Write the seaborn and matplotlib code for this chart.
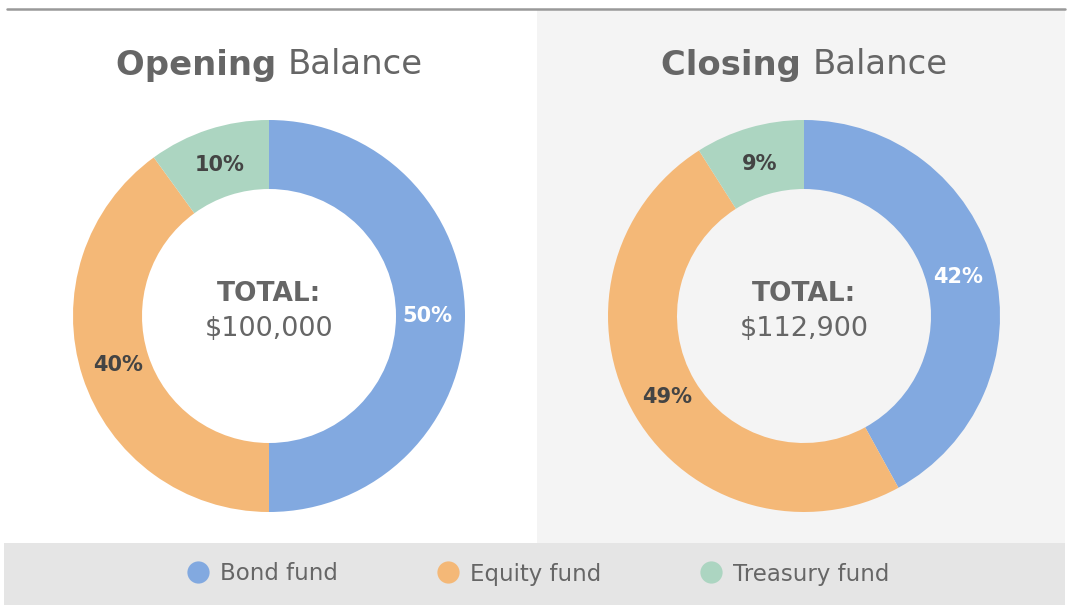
import matplotlib
matplotlib.use("Agg")
import numpy as np
import matplotlib.pyplot as plt
import seaborn as sns
from matplotlib.patches import Rectangle
from matplotlib.lines import Line2D

# ---- data ----
categories = ["Bond fund", "Equity fund", "Treasury fund"]
opening_pct = [50, 40, 10]
closing_pct = [42, 49, 9]
opening_total = "$100,000"
closing_total = "$112,900"
titles = [("Opening", "Balance"), ("Closing", "Balance")]

sns.set_theme(style="white")
plt.rcParams["font.family"] = ["DejaVu Sans"]
palette = sns.color_palette(["#82a9e0", "#f4b877", "#acd5c1"])
label_colors = ["white", "#444444", "#444444"]

W, H = 1068, 614
fig = plt.figure(figsize=(W / 100, H / 100), dpi=100)
fig.patch.set_facecolor("white")

# background panels
fig.patches.append(Rectangle((537 / W, (H - 543) / H), (1065 - 537) / W, (543 - 9) / H,
                             transform=fig.transFigure, facecolor="#f4f4f4", edgecolor="none", zorder=-2))
fig.patches.append(Rectangle((4 / W, (H - 605) / H), (1065 - 4) / W, (605 - 543) / H,
                             transform=fig.transFigure, facecolor="#e5e5e5", edgecolor="none", zorder=-2))
fig.lines.append(Line2D([7 / W, 1065 / W], [(H - 8.5) / H, (H - 8.5) / H],
                        transform=fig.transFigure, color="#999999", linewidth=1.8))

R = 196
ring = (196 - 127) / 196
centers = [(269, 316), (804, 316)]
datasets = [opening_pct, closing_pct]
totals = [opening_total, closing_total]

for (cx, cy), vals, total, (tb, tr) in zip(centers, datasets, totals, titles):
    ax = fig.add_axes([(cx - R) / W, (H - cy - R) / H, 2 * R / W, 2 * R / H])
    ax.set_facecolor("none")
    ax.pie(vals, colors=palette, startangle=90, counterclock=False,
           radius=1.0, wedgeprops=dict(width=ring, linewidth=0))
    start = 90.0
    rlab = 0.81
    for v, lc in zip(vals, label_colors):
        mid = start - v * 360 / 100 / 2
        start -= v * 360 / 100
        ax.text(rlab * np.cos(np.radians(mid)), rlab * np.sin(np.radians(mid)), f"{v}%",
                ha="center", va="center", fontsize=15, fontweight="bold", color=lc)
    ax.text(0, 0.11, "TOTAL:", ha="center", va="center", fontsize=19,
            fontweight="bold", color="#666666")
    ax.text(0, -0.065, total, ha="center", va="center", fontsize=19.5, color="#666666")
    ax.set_xlim(-1, 1)
    ax.set_ylim(-1, 1)
    ax.set_aspect("equal")
    ax.axis("off")

    # title: bold + regular parts
    ty = (H - 65) / H
    t1 = fig.text(0, ty, tb + " ", fontsize=24.4, fontweight="bold", color="#666666", va="center")
    t2 = fig.text(0, ty, tr, fontsize=24.4, color="#666666", va="center")
    fig.canvas.draw()
    r = fig.canvas.get_renderer()
    w1 = t1.get_window_extent(r).width
    w2 = t2.get_window_extent(r).width
    x0 = cx - (w1 + w2) / 2
    t1.set_x(x0 / W)
    t2.set_x((x0 + w1) / W)

# legend
handles = [Line2D([], [], marker="o", linestyle="none", markersize=16,
                  markerfacecolor=c, markeredgecolor="none") for c in palette]
leg = fig.legend(handles, categories, loc="center", bbox_to_anchor=(537 / W, (H - 574) / H),
                 ncol=3, frameon=False, fontsize=16.5, columnspacing=4.2, handletextpad=0.36,
                 handlelength=1.2)
for t in leg.get_texts():
    t.set_color("#666666")

fig.savefig("out.png", dpi=100)
